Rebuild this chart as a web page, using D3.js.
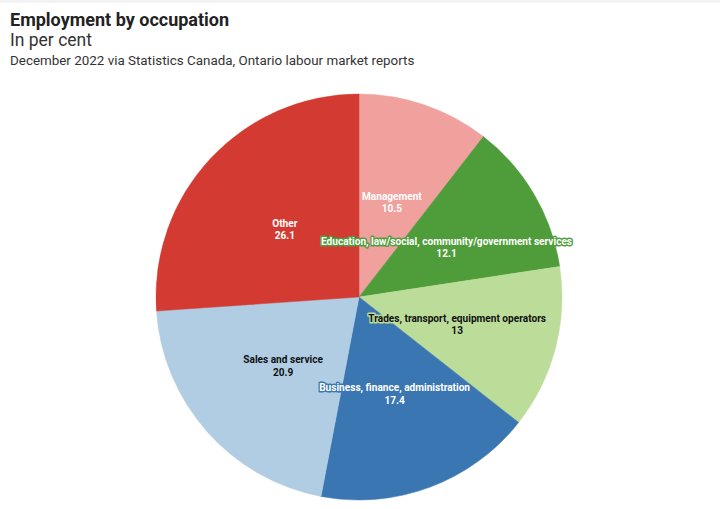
<!DOCTYPE html>
<html>
<head>
<meta charset="utf-8">
<script src="https://cdn.jsdelivr.net/npm/d3@7"></script>
<style>
  html, body { margin: 0; padding: 0; background: #fff; }
  svg { display: block; }
  text { font-family: Roboto, "Noto Sans", sans-serif; }
</style>
</head>
<body>
<svg id="chart" width="720" height="509"></svg>
<script>
const categories = ["Management", "Education, law/social, community/government services", "Trades, transport, equipment operators", "Business, finance, administration", "Sales and service", "Other"];
const values = [10.5, 12.1, 13, 17.4, 20.9, 26.1];
const valueLabels = ["10.5", "12.1", "13", "17.4", "20.9", "26.1"];
const colors = ["#f0a09d", "#4f9c3b", "#bcdc99", "#3a76b1", "#b0cde3", "#d33b32"];
const textColors = ["#ffffff", "#ffffff", "#111111", "#ffffff", "#111111", "#ffffff"];

const W = 720, H = 509;
const svg = d3.select("#chart");

svg.append("rect").attr("x", 0).attr("y", 0).attr("width", W).attr("height", 3).attr("fill", "#f3f3f3");

function headText(x, y, str, size, weight, fill) {
  svg.append("text")
    .attr("x", x).attr("y", y)
    .attr("font-size", size).attr("font-weight", weight).attr("fill", fill)
    .text(str);
}
headText(10, 26, "Employment by occupation", 18, 700, "#222");
headText(10, 46, "In per cent", 17.5, 400, "#333");
headText(10, 65, "December 2022 via Statistics Canada, Ontario labour market reports", 13.4, 400, "#333");

const cx = 359, cy = 297, r = 203;
const data = categories.map((c, i) => ({ name: c, value: values[i], label: valueLabels[i], color: colors[i], tcolor: textColors[i] }));
const pie = d3.pie().value(d => d.value).sort(null);
const arc = d3.arc().innerRadius(0).outerRadius(r);
const arcs = pie(data);

const g = svg.append("g").attr("transform", `translate(${cx},${cy})`);
g.selectAll("path.slice").data(arcs).join("path")
  .attr("class", "slice")
  .attr("d", arc)
  .attr("fill", d => d.data.color)
  .attr("stroke", d => d.data.color)
  .attr("stroke-width", 0.5);

const lg = g.append("g");
arcs.forEach(d => {
  const [x, y] = arc.centroid(d);
  const grp = lg.append("g").attr("transform", `translate(${x},${y}) scale(0.92,1)`);
  const lines = [d.data.name, d.data.label];
  lines.forEach((l, i) => {
    grp.append("text").attr("text-anchor", "middle")
      .attr("x", 0).attr("y", -1 + i * 12.5)
      .attr("font-size", 11).attr("font-weight", 700)
      .attr("fill", d.data.tcolor)
      .attr("stroke", d.data.color).attr("stroke-width", 3).attr("stroke-linejoin", "round")
      .style("paint-order", "stroke")
      .text(l);
  });
});
</script>
</body>
</html>
